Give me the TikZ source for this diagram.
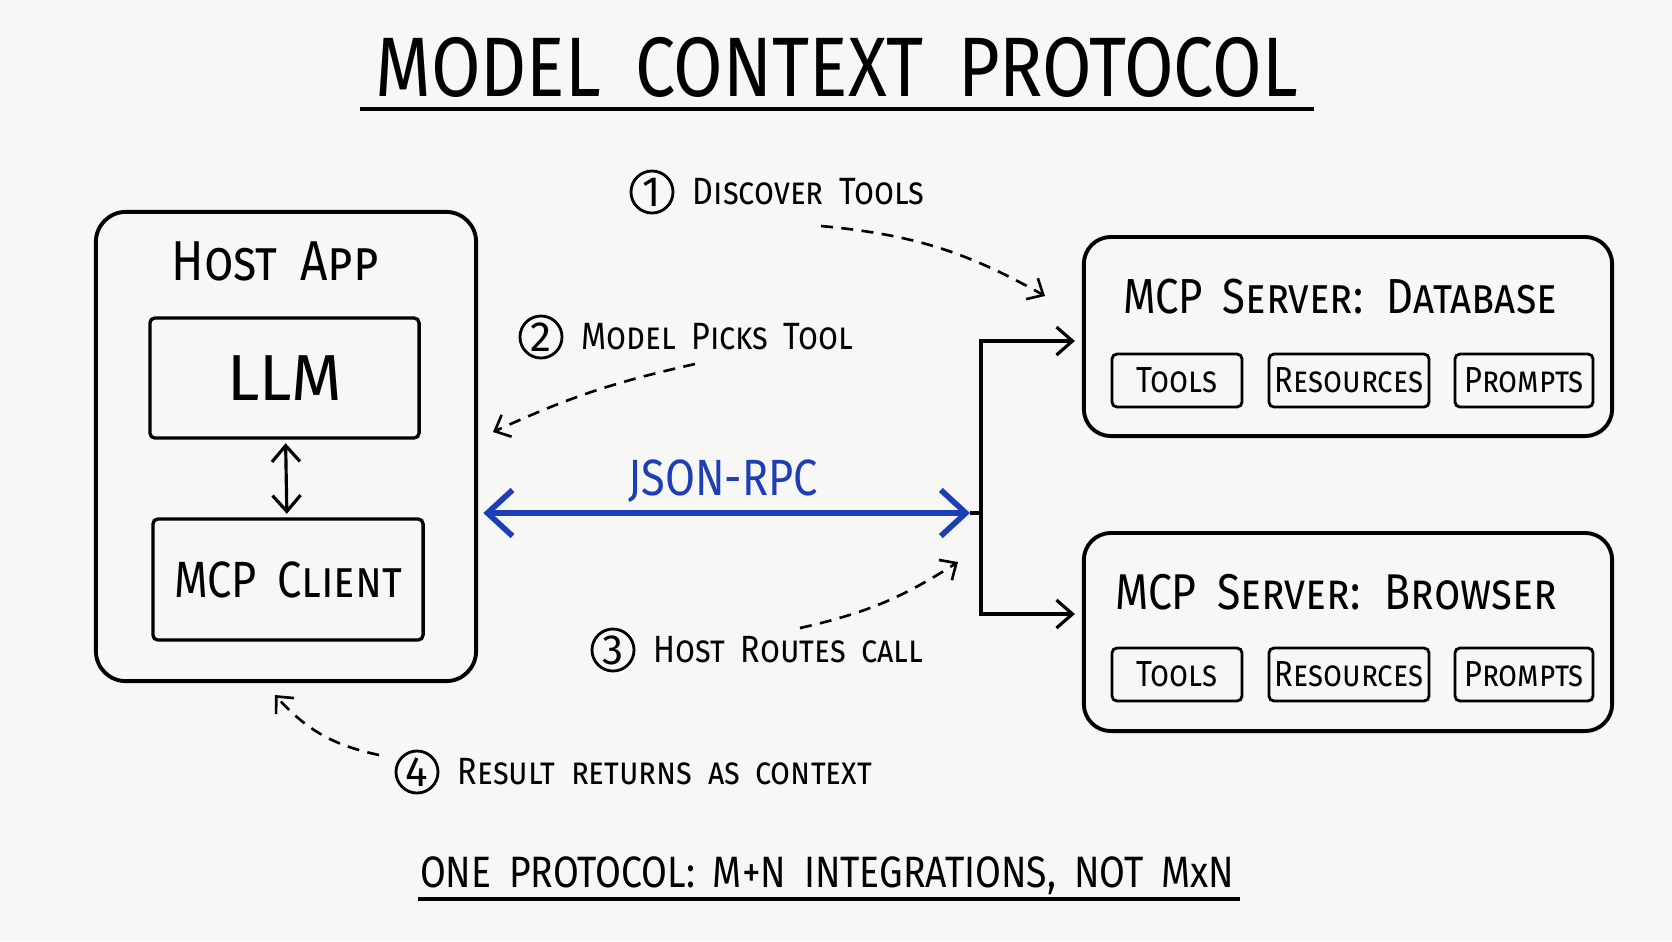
\documentclass[tikz,border=0pt]{standalone}
\usepackage{fontspec}
\setmainfont{Fira Sans}
\newfontfamily\hand{Fira Sans}[FakeStretch=0.85, WordSpace=1.8]
\usetikzlibrary{arrows.meta,positioning}

\definecolor{paper}{RGB}{247,247,245}
\definecolor{rpcblue}{RGB}{30,62,182}

\tikzset{
  outerbox/.style={draw, line width=1.1pt, rounded corners=3mm},
  innerbox/.style={draw, line width=0.95pt, rounded corners=0.5mm},
  chip/.style={draw, line width=0.8pt, rounded corners=0.5mm, minimum height=5.3mm, inner sep=1pt,
    font=\hand\scshape\fontsize{10.3}{12}\selectfont},
  stepnum/.style={draw, circle, line width=0.8pt, inner sep=0pt, minimum size=4.2mm,
    font=\fontsize{12}{12}\selectfont},
  steptext/.style={font=\hand\scshape\fontsize{10.8}{13}\selectfont},
  steparrow/.style={line width=0.75pt, dash pattern=on 3.4pt off 2.4pt,
    -{Straight Barb[length=1.3mm,width=2.4mm]}},
  conn/.style={line width=0.9pt}
}

\begin{document}
\begin{tikzpicture}[x=0.01cm, y=-0.01cm, >={Straight Barb[length=1.6mm,width=2.8mm]}]

    % --- SFONDO ---
    \fill[paper] (0,0) rectangle (1672,941);
    \useasboundingbox (0,0) rectangle (1672,941);

    % --- TITOLO ---
    \node[font=\hand\fontsize{24}{28}\selectfont] (title) at (837,67) {MODEL CONTEXT PROTOCOL};
    \coordinate (TL) at (360,109);
    \coordinate (TR) at (1314,109);
    \draw[line width=1.3pt] (TL) -- (TR);

    % --- HOST APP ---
    \node[outerbox, minimum width=38mm, minimum height=46.9mm] (host) at (286,446.5) {};
    \node[font=\hand\scshape\fontsize{16}{18}\selectfont] (hostlbl) at (275,261) {Host App};
    \node[innerbox, minimum width=26.9mm, minimum height=12mm,
          font=\fontsize{18.5}{20}\selectfont] (llm) at (284.5,378) {LLM};
    \node[innerbox, minimum width=27mm, minimum height=12.1mm,
          font=\hand\scshape\fontsize{14.5}{16}\selectfont] (client) at (288,579.5) {MCP Client};
    \draw[conn, <->, shorten <=1pt, shorten >=1pt] (llm) -- (client);

    % --- SERVER MCP ---
    \node[outerbox, rounded corners=2.7mm, minimum width=52.8mm, minimum height=19.9mm] (db) at (1348,336.5) {};
    \node[outerbox, rounded corners=2.7mm, minimum width=52.8mm, minimum height=19.8mm] (br) at (1348,632) {};
    \node[font=\hand\scshape\fontsize{14}{17}\selectfont] (dblbl) at (1340,297) {MCP Server: Database};
    \node[font=\hand\scshape\fontsize{14.3}{17}\selectfont] (brlbl) at (1336,592) {MCP Server: Browser};

    % capacita' di ogni server
    \foreach \srv/\yy in {db/380.5, br/674.5} {
        \node[chip, minimum width=13mm] (\srv-tools) at (1177,\yy) {Tools};
        \node[chip, minimum width=16mm] (\srv-res) at (1349,\yy) {Resources};
        \node[chip, minimum width=13.8mm] (\srv-prompts) at (1524,\yy) {Prompts};
    }

    % --- JSON-RPC ---
    \coordinate (rpcL) at (host.east |- 0,513);
    \coordinate (rpcR) at (970,513);
    \coordinate (hub) at (981,513);
    \coordinate (hubTop) at (981,341);
    \coordinate (hubBot) at (981,614);
    \draw[rpcblue, line width=1.6pt, {Straight Barb[length=2.5mm,width=4.6mm]}-{Straight Barb[length=2.5mm,width=4.6mm]},
          shorten <=1.5pt] (rpcL) -- (rpcR);
    \node[rpcblue, font=\hand\fontsize{14.5}{16}\selectfont] (rpclbl) at (723,481) {JSON-RPC};

    % diramazione verso i server
    \draw[conn] (rpcR) -- (hub);
    \draw[conn, ->, shorten >=2pt] (hub) -- (hubTop) -- (hubTop -| db.west);
    \draw[conn, ->, shorten >=2pt] (hub) -- (hubBot) -- (hubBot -| br.west);

    % --- PASSI ---
    \node[stepnum] (n1) at (652,192) {1};
    \node[steptext, right=0.6mm of n1] (t1) {Discover Tools};
    \node[stepnum] (n2) at (541,337) {2};
    \node[steptext, right=0.6mm of n2] (t2) {Model Picks Tool};
    \node[stepnum] (n3) at (613,650) {3};
    \node[steptext, right=0.6mm of n3] (t3) {Host Routes call};
    \node[stepnum] (n4) at (417,772) {4};
    \node[steptext, right=0.6mm of n4] (t4) {Result returns as context};

    \coordinate (s1a) at (821,226);  \coordinate (s1b) at (1045,296);
    \coordinate (s2a) at (695,364);  \coordinate (s2b) at (493,432);
    \coordinate (s3a) at (800,628);  \coordinate (s3b) at (958,562);
    \coordinate (s4a) at (379,755);  \coordinate (s4b) at (275,695);
    \draw[steparrow] (s1a) to[bend left=12] (s1b);
    \draw[steparrow] (s2a) to[bend right=6] (s2b);
    \draw[steparrow] (s3a) to[bend right=10] (s3b);
    \draw[steparrow] (s4a) to[bend left=18] (s4b);

    % --- NOTA FINALE ---
    \node[font=\hand\fontsize{12.5}{14}\selectfont] (note) at (827,876) {ONE PROTOCOL: M+N INTEGRATIONS, NOT MxN};
    \coordinate (NL) at (418,899);
    \coordinate (NR) at (1240,899);
    \draw[line width=1pt] (NL) -- (NR);

\end{tikzpicture}
\end{document}
